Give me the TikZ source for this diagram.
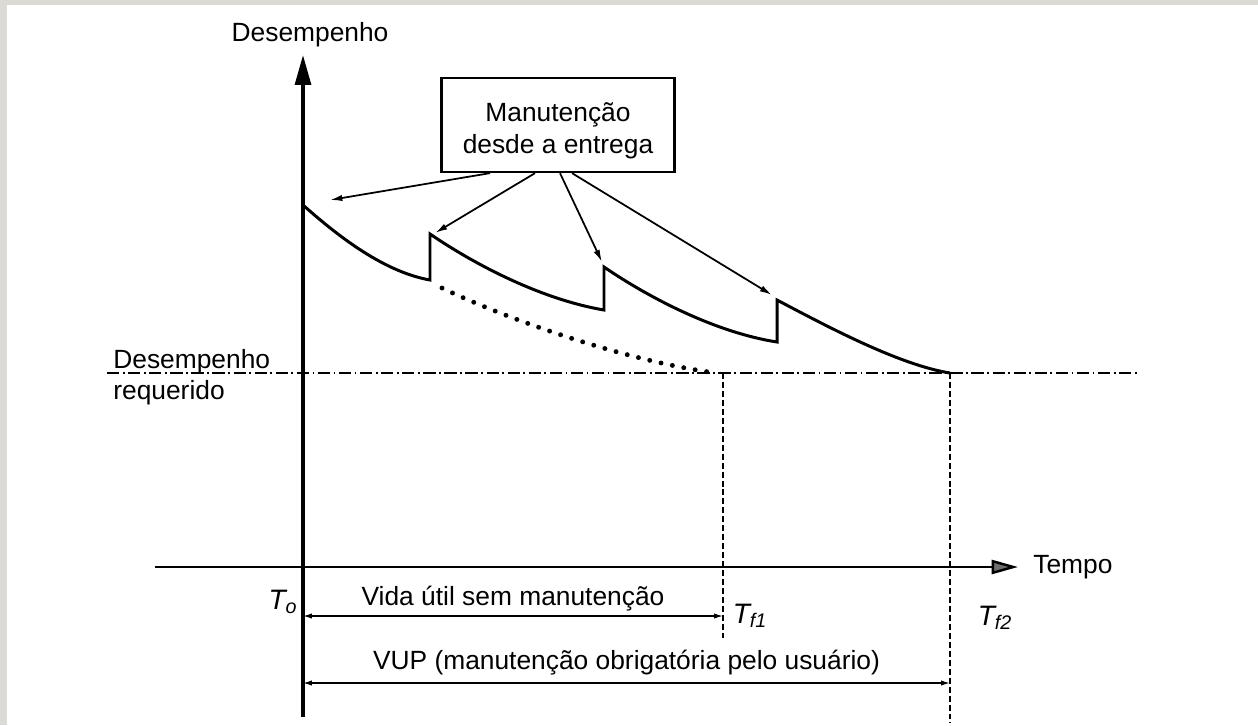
\documentclass[tikz,border=0pt]{standalone}
\usepackage{fontspec}
\setmainfont{Liberation Sans}
\usepackage{tikz}
\usetikzlibrary{arrows.meta,positioning}
\definecolor{framegray}{HTML}{DCDAD5}
\definecolor{tipgray}{HTML}{6E6E6E}

\begin{document}
\begin{tikzpicture}[x=0.02cm, y=-0.02cm,
    every node/.style={font=\fontsize{15}{17}\selectfont, inner sep=0pt},
    yaxis/.style={line width=2pt, -{Triangle[length=17pt,width=9pt]}},
    xaxis/.style={line width=1.4pt, -{Triangle[length=15pt,width=8pt,fill=tipgray]}},
    curve/.style={line width=1.7pt},
    lost/.style={line width=2.8pt, line cap=round, dash pattern=on 0pt off 6.6pt},
    reqline/.style={line width=0.8pt, dash pattern=on 7pt off 2pt on 1pt off 2pt},
    guide/.style={line width=1.1pt, dash pattern=on 3.4pt off 1.7pt},
    callout/.style={line width=1pt, -{Latex[length=7pt,width=3.6pt]}},
    dimline/.style={line width=0.8pt, {Latex[length=5pt,width=3pt]}-{Latex[length=5pt,width=3pt]}},
    tlabel/.style={font=\fontsize{16}{17}\selectfont\itshape}]
    % page and frame
    \fill[framegray] (0,0) rectangle (1258,725);
    \fill[white] (7,5) rectangle (1258,725);
    \useasboundingbox (0,0) rectangle (1258,725);

    % axes
    \coordinate (ytip) at (303,55);
    \coordinate (ybot) at (303,717);
    \coordinate (xstart) at (155,567);
    \coordinate (xtip) at (1018,567);
    \draw[yaxis] (ybot) -- (ytip);
    \draw[xaxis] (xstart) -- (xtip);
    \node[above=0.16cm of ytip, xshift=4pt] (ylabel) {Desempenho};
    \node[right=0.3cm of xtip] (xlabel) {Tempo};

    % required performance
    \coordinate (reqL) at (107,373);
    \coordinate (reqR) at (1140,373);
    \draw[reqline] (reqL) -- (reqR);
    \node[anchor=west, align=left, font=\fontsize{15}{17.5}\selectfont] (reqlabel) at (113,377) {Desempenho\\requerido};

    % performance with maintenance
    \coordinate (start) at (303,205);
    \coordinate (peak1) at (430,234);
    \coordinate (peak2) at (604,267);
    \coordinate (peak3) at (777,300);
    \coordinate (tf1) at (723,373);
    \coordinate (tf2) at (950,373);
    \draw[curve] (start) .. controls (340,238) and (385,272) .. (430,280) -- (peak1)
        .. controls (480,268) and (545,300) .. (604,310) -- (peak2)
        .. controls (654,301) and (719,333) .. (777,342) -- (peak3)
        .. controls (830,328) and (900,365) .. (tf2);
    % without maintenance
    \draw[lost] (442,288) .. controls (500,316) and (620,360) .. (716,373);

    % maintenance box
    \node[draw, line width=1.3pt, minimum width=4.66cm, minimum height=1.88cm,
          align=center, font=\fontsize{15}{18}\selectfont] (maint) at (558,125)
          {\rule{0pt}{17pt}Manutenção\\desde a entrega};
    \coordinate (hit0) at (330,200);
    \coordinate (hit1) at (435,233);
    \coordinate (hit2) at (602,262);
    \coordinate (hit3) at (772,295);
    \draw[callout] ([xshift=-1.36cm]maint.south) -- (hit0);
    \draw[callout] ([xshift=-0.46cm]maint.south) -- (hit1);
    \draw[callout] ([xshift=0.04cm]maint.south) -- (hit2);
    \draw[callout] ([xshift=0.28cm]maint.south) -- (hit3);

    % end of life
    \coordinate (tf1bot) at (723,638);
    \coordinate (tf2bot) at (950,723);
    \draw[guide] (tf1) -- (tf1bot);
    \draw[guide] (tf2) -- (tf2bot);

    \node[tlabel] (t0) at (283,602) {T\textsubscript{o}};
    \node[tlabel] (t1) at (750,616) {T\textsubscript{f1}};
    \node[tlabel] (t2) at (995,618) {T\textsubscript{f2}};

    % service lives
    \coordinate (vida0) at (303,616);
    \coordinate (vida1) at (723,616);
    \coordinate (vup0) at (303,683);
    \coordinate (vup1) at (950,683);
    \draw[dimline] (vida0) -- node[yshift=10pt] (vidalabel) {Vida útil sem manutenção} (vida1);
    \draw[dimline] (vup0) -- node[yshift=11.4pt] (vuplabel) {VUP (manutenção obrigatória pelo usuário)} (vup1);
\end{tikzpicture}
\end{document}
